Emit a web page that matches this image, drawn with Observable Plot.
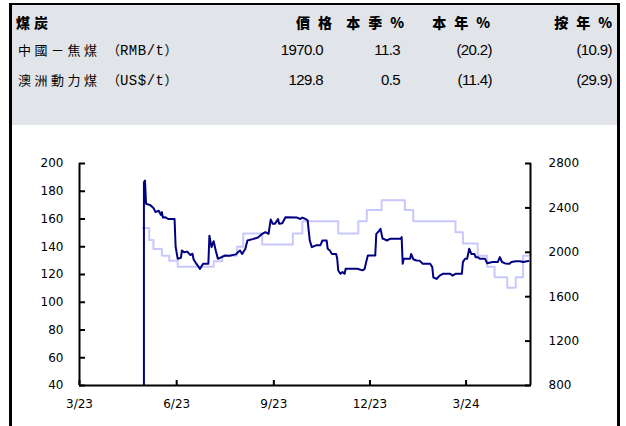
<!DOCTYPE html>
<html><head><meta charset="utf-8">
<script src="https://cdn.jsdelivr.net/npm/d3@7"></script>
<script src="https://cdn.jsdelivr.net/npm/@observablehq/plot@0.6"></script>
<style>
html,body{margin:0;padding:0;background:#fff;width:626px;height:426px;overflow:hidden;}
#frame{position:absolute;left:9px;top:3px;width:605px;height:440px;border-left:3px solid #000;border-top:2px solid #000;border-right:3px solid #000;}
#head{position:absolute;left:0;top:0;width:605px;height:120px;background:#e1e4e8;}
.t{position:absolute;white-space:nowrap;height:20px;line-height:20px;color:#000;}
.ttl{font-family:"Noto Sans CJK TC";font-weight:900;font-size:14px;letter-spacing:4px;}
.hd{font-family:"Noto Sans CJK TC";font-weight:900;font-size:14px;letter-spacing:8px;}
.lb{font-family:"Noto Sans CJK TC";font-size:13px;letter-spacing:3.5px;}
.lb .u{font-size:13px;letter-spacing:0;}
.lb .m{font-family:"Liberation Mono";font-size:14px;letter-spacing:0.5px;}
.num{font-family:"Liberation Sans";font-size:15px;letter-spacing:-0.6px;text-align:right;}
#chart{position:absolute;left:0;top:120px;}
</style></head>
<body>
<div id="frame">
  <div id="head"></div>
  <div id="chart"></div>
</div>
<script>
// ---- header table data ----
const headerTitle = "煤炭";
const headerCols = ["價格", "本季%", "本年%", "按年%"];
const rowLabels = ["中國－焦煤", "澳洲動力煤"];
const rowUnits = ["RMB/t", "US$/t"];
const rowPrice = ["1970.0", "129.8"];
const rowQtr = ["11.3", "0.5"];
const rowYtd = ["(20.2)", "(11.4)"];
const rowYoy = ["(10.9)", "(29.9)"];

// ---- chart data ----
const darkDates = ["2023-05-01","2023-05-01","2023-05-02","2023-05-03","2023-05-07","2023-05-10","2023-05-12","2023-05-15","2023-05-17","2023-05-18","2023-05-19","2023-05-21","2023-05-24","2023-05-30","2023-05-31","2023-06-02","2023-06-05","2023-06-06","2023-06-08","2023-06-11","2023-06-14","2023-06-16","2023-06-17","2023-06-19","2023-06-22","2023-06-23","2023-06-26","2023-07-01","2023-07-02","2023-07-04","2023-07-06","2023-07-08","2023-07-10","2023-07-12","2023-07-17","2023-07-21","2023-07-27","2023-07-29","2023-07-31","2023-08-02","2023-08-05","2023-08-07","2023-08-12","2023-08-17","2023-08-21","2023-08-24","2023-08-27","2023-08-29","2023-08-31","2023-09-02","2023-09-05","2023-09-06","2023-09-09","2023-09-12","2023-09-23","2023-09-26","2023-09-28","2023-10-01","2023-10-03","2023-10-05","2023-10-07","2023-10-11","2023-10-15","2023-10-17","2023-10-21","2023-10-22","2023-10-24","2023-10-26","2023-10-30","2023-10-31","2023-11-01","2023-11-03","2023-11-05","2023-11-07","2023-11-08","2023-11-19","2023-11-24","2023-11-26","2023-11-27","2023-11-29","2023-12-06","2023-12-07","2023-12-10","2023-12-11","2023-12-13","2023-12-14","2023-12-17","2023-12-20","2023-12-30","2023-12-31","2024-01-01","2024-01-02","2024-01-08","2024-01-09","2024-01-11","2024-01-14","2024-01-17","2024-01-20","2024-01-27","2024-01-29","2024-01-30","2024-02-02","2024-02-05","2024-02-08","2024-02-15","2024-02-17","2024-02-20","2024-02-26","2024-02-27","2024-02-29","2024-03-02","2024-03-04","2024-03-06","2024-03-09","2024-03-10","2024-03-12","2024-03-14","2024-03-19","2024-03-21","2024-03-26","2024-03-31","2024-04-02","2024-04-04","2024-04-07","2024-04-11","2024-04-13","2024-04-17","2024-04-21","2024-04-24","2024-04-29"];
const darkValues = [0,186.5,187.7,171,170,168,165,166,163,165,161,161.3,160,160,140,131.3,132,137.3,136,136.5,134,135,131,128.4,125.3,124,127.7,127.7,148,139.7,144,137.3,131.3,132,133.7,133.5,134.5,136,137.3,134.8,138.6,144.5,145.5,146.7,149.3,150.5,149.3,159.6,156.5,156.5,160,156.5,157,161.3,161,160,161,160,159,144.5,139.7,141,141,144.5,144.5,138.5,137.3,134.8,134.8,131.3,122.9,120.5,121.7,120.5,124.1,124.1,123,124,127.7,133.7,133.7,149.3,151.7,152.9,145.7,145.7,144.5,145.7,145.7,146.9,127.7,131.3,131.3,134.8,131,130.1,130,127.7,127.7,125.3,118,116.8,119.2,120.5,120.5,119.2,120.5,120.5,128.9,131.3,131.3,138.5,134.8,134.8,132.5,132.5,131.3,131.3,128.1,129,129,132.5,129,128,127.7,129,129.6,129.6,129,129.8];

const lightDates = ["2023-04-30","2023-05-06","2023-05-10","2023-05-18","2023-05-25","2023-06-02","2023-07-06","2023-07-14","2023-07-28","2023-08-03","2023-08-21","2023-09-19","2023-09-28","2023-11-01","2023-11-20","2023-11-28","2023-12-12","2024-01-03","2024-01-11","2024-02-20","2024-02-27","2024-03-12","2024-03-21","2024-03-28","2024-04-09","2024-04-17","2024-04-24","2024-04-29"];
const lightValues = [2220,2110,2030,1970,1925,1870,1920,1970,2050,2170,2070,2170,2280,2170,2280,2380,2470,2380,2280,2180,2080,1970,1870,1775,1680,1775,1970,1970];

const leftTicks = [40,60,80,100,120,140,160,180,200];
const rightTicks = [800,1200,1600,2000,2400,2800];
const xTickDates = ["2023-03-01","2023-06-01","2023-09-01","2023-12-01","2024-03-01"];
const xTickLabels = ["3/23","6/23","9/23","12/23","3/24"];
const xDomain = ["2023-03-01","2024-05-01"];

// ---- header ----
const head = document.getElementById("head");
function addDiv(cls, html, style) {
  const d = document.createElement("div");
  d.className = "t " + cls;
  d.innerHTML = html;
  Object.assign(d.style, style);
  head.appendChild(d);
}
addDiv("ttl", headerTitle, {left: "4px", top: "7px"});
const colRights = [277, 205, 119, -3];
headerCols.forEach((c, i) => addDiv("hd", c, {right: colRights[i] + "px", top: "7px"}));
const numRights = [294, 217, 125, 5];
rowLabels.forEach((lab, r) => {
  const top = (35 + r * 30) + "px";
  addDiv("lb", lab + " <span class='u'>（<span class='m'>" + rowUnits[r] + "</span>）</span>", {left: "6px", top});
  [rowPrice, rowQtr, rowYtd, rowYoy].forEach((arr, c) =>
    addDiv("num", arr[r], {right: numRights[c] + "px", top}));
});

// ---- chart ----
const parse = s => new Date(s + "T00:00:00Z");
const toLeft = d3.scaleLinear([800, 2800], [40, 200]);
const dark = darkDates.map((d, i) => ({date: parse(d), v: darkValues[i]}));
const light = lightDates.map((d, i) => ({date: parse(d), v: lightValues[i]}));
const xTicks = xTickDates.map(parse);
const xLabelMap = new Map(xTicks.map((d, i) => [+d, xTickLabels[i]]));
const rightPos = rightTicks.map(toLeft);

const chart = Plot.plot({
  width: 605, height: 301,
  marginLeft: 67, marginRight: 87, marginTop: 38, marginBottom: 41,
  style: {fontFamily: "DejaVu Sans", fontSize: "12px", color: "#000", background: "transparent", overflow: "visible"},
  x: {type: "utc", domain: xDomain.map(parse), label: null},
  y: {domain: [40, 200], label: null},
  marks: [
    Plot.line(light, {x: "date", y: d => toLeft(d.v), curve: "step-after", stroke: "#c8c8fb", strokeWidth: 2}),
    Plot.line(dark, {x: "date", y: "v", stroke: "#000080", strokeWidth: 2, clip: true}),
    Plot.ruleX([parse(xDomain[0])], {stroke: "#000", strokeWidth: 2}),
    Plot.ruleX([parse(xDomain[1])], {stroke: "#000", strokeWidth: 2}),
    Plot.ruleY([40], {stroke: "#000", strokeWidth: 2}),
    Plot.axisY(leftTicks, {anchor: "left", tickSize: 6, dx: 6, fill: "none", strokeWidth: 2, label: null}),
    Plot.axisY(leftTicks, {anchor: "left", tickSize: 0, tickPadding: 16, label: null}),
    Plot.axisY(rightPos, {anchor: "right", tickSize: 6, dx: -6, fill: "none", strokeWidth: 2, label: null}),
    Plot.axisY(rightPos, {anchor: "right", tickSize: 0, tickPadding: 18, label: null,
      tickFormat: d => String(Math.round(toLeft.invert(d)))}),
    Plot.axisX(xTicks, {anchor: "bottom", tickSize: 5, dy: -5, fill: "none", strokeWidth: 2, label: null}),
    Plot.axisX(xTicks, {anchor: "bottom", tickSize: 0, tickPadding: 14, label: null,
      tickFormat: d => xLabelMap.get(+d)})
  ]
});
document.getElementById("chart").appendChild(chart);
</script>
</body></html>
